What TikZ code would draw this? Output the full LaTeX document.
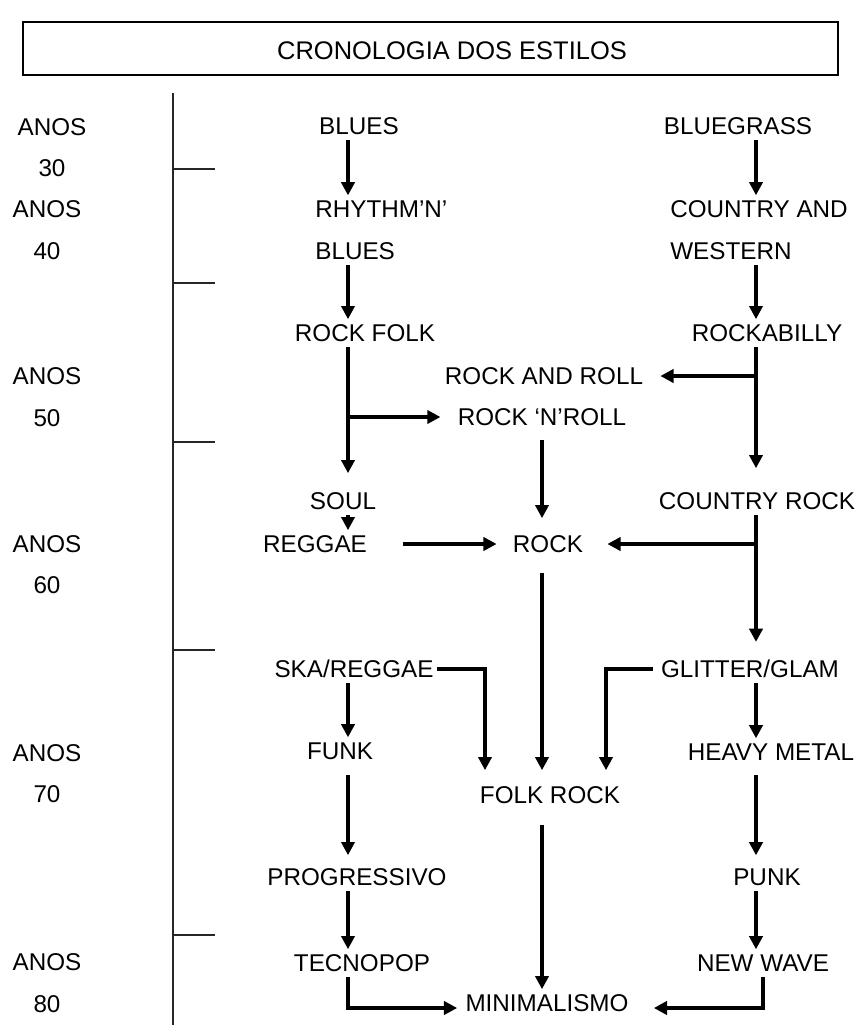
\documentclass[tikz,border=0pt]{standalone}
\usepackage{fontspec}
\setmainfont{Liberation Sans}
\usetikzlibrary{arrows.meta, calc}

\begin{document}
\begin{tikzpicture}[
  x=0.02cm, y=-0.02cm,
  estilo/.style={font=\fontsize{13.8}{23.8}\selectfont, inner xsep=0.16cm, inner ysep=0.1cm, text depth=0pt},
  ano/.style={estilo, align=center},
  titulo/.style={font=\fontsize{14.5}{17}\selectfont},
  caixa/.style={draw=black, line width=1.1pt},
  eixo/.style={draw=black!85, line width=1.1pt},
  seta/.style={-{Triangle[length=7.5pt, width=7.5pt]}, line width=1.9pt}
]
\useasboundingbox (0,0) rectangle (861,1025);

% --- Titel oben ---
\draw[caixa] (23,22) rectangle (838,75);
\node[titulo] (titulo) at (452,51) {CRONOLOGIA DOS ESTILOS};

% --- Zeitachse ---
\coordinate (eixotopo) at (173,93);
\coordinate (eixobase) at (173,1025);
\draw[eixo] (eixotopo) -- (eixobase);
\foreach \y in {169,283,442,650,935}
  \draw[eixo] (173,\y) -- ++(42,0);

\foreach \d/\x/\y in {30/52/147.5, 40/47/230, 50/47/397, 60/47/564.5, 70/47/773.5, 80/47/983}
  \node[ano] (anos\d) at (\x,\y) {ANOS\\\d};

% Spalten der Pfeile
\coordinate (colesq) at (348,0);
\coordinate (colmeio) at (542,0);
\coordinate (coldir) at (756,0);

% ------------------- ESTILOS ------------------------
\node[estilo] (blues)      at (359,126) {BLUES};
\node[estilo] (bluegrass)  at (738,126) {BLUEGRASS};
\node[estilo, align=left, anchor=west] (rhythm)  at (307,230) {RHYTHM'N'\\BLUES};
\node[estilo, align=left, anchor=west] (country) at (662,230) {COUNTRY AND\\WESTERN};
\node[estilo] (rockfolk)   at (365,333) {ROCK FOLK};
\node[estilo] (rockabilly) at (767,333) {ROCKABILLY};
\node[estilo] (rockandroll) at (544,376) {ROCK AND ROLL};
\node[estilo] (rocknroll)  at (542,417) {ROCK `N'ROLL};
\node[estilo] (soul)       at (343,501) {SOUL};
\node[estilo] (countryrock) at (757,501) {COUNTRY ROCK};
\node[estilo] (reggae)     at (315,544) {REGGAE};
\node[estilo] (rock)       at (548,544) {ROCK};
\node[estilo] (ska)        at (354,669) {SKA/REGGAE};
\node[estilo] (glitter)    at (750,669) {GLITTER/GLAM};
\node[estilo] (funk)       at (340,751) {FUNK};
\node[estilo] (heavy)      at (771,752) {HEAVY METAL};
\node[estilo] (folkrock)   at (550,795) {FOLK ROCK};
\node[estilo] (progressivo) at (357,877) {PROGRESSIVO};
\node[estilo] (punk)       at (767,877) {PUNK};
\node[estilo] (tecnopop)   at (362,963) {TECNOPOP};
\node[estilo] (newwave)    at (763,963) {NEW WAVE};
\node[estilo] (minimalismo) at (547,1003) {MINIMALISMO};

% Endpunkte der Winkelpfeile zum Folk Rock
\coordinate (skafim) at ($(folkrock.north)+(-65,-11)$);
\coordinate (glamfim) at ($(folkrock.north)+(56,-11)$);

% Verbindungen
\draw[seta] (blues.south -| colesq) -- (rhythm.north -| colesq);
\draw[seta] (bluegrass.south -| coldir) -- (country.north -| coldir);
\draw[seta] (rhythm.south -| colesq) -- (rockfolk.north -| colesq);
\draw[seta] (country.south -| coldir) -- (rockabilly.north -| coldir);

\draw[seta, shorten >=0.28cm] (rockfolk.south -| colesq) -- (soul.north -| colesq);
\draw[seta, shorten >=0.18cm] (rocknroll.west -| colesq) -- (rocknroll.west);
\draw[seta, shorten >=0.38cm] (rockabilly.south -| coldir) -- (countryrock.north -| coldir);
\draw[seta, shorten >=0.18cm] (rockandroll.east -| coldir) -- (rockandroll.east);

\draw[seta] (soul.south -| colesq) -- (reggae.north -| colesq);
\draw[seta, shorten <=0.18cm, shorten >=0.24cm] (rocknroll.south -| colmeio) -- (rock.north -| colmeio);
\draw[seta, shorten <=0.56cm, shorten >=0.16cm] (reggae.east) -- (rock.west);
\draw[seta, shorten >=0.26cm] (countryrock.south -| coldir) -- (glitter.north -| coldir);
\draw[seta, shorten >=0.32cm] (rock.east -| coldir) -- (rock.east);

\draw[seta, shorten <=0.3cm, shorten >=0.22cm] (rock.south -| colmeio) -- (folkrock.north -| colmeio);
\draw[seta] ([xshift=-0.1cm]ska.east) -| (skafim);
\draw[seta] (glitter.west) -| (glamfim);
\draw[seta] (ska.south -| colesq) -- (funk.north -| colesq);
\draw[seta] (glitter.south -| coldir) -- (heavy.north -| coldir);

\draw[seta, shorten <=0.2cm, shorten >=0.16cm] (funk.south -| colesq) -- (progressivo.north -| colesq);
\draw[seta, shorten <=0.18cm, shorten >=0.16cm] (heavy.south -| coldir) -- (punk.north -| coldir);
\draw[seta] (progressivo.south -| colesq) -- (tecnopop.north -| colesq);
\draw[seta] (punk.south -| coldir) -- (newwave.north -| coldir);

\draw[seta, shorten <=0.32cm] (folkrock.south -| colmeio) -- (minimalismo.north -| colmeio);
\draw[seta] (tecnopop.south -| colesq) |- ([yshift=-0.1cm]minimalismo.west);
\draw[seta, shorten >=0.34cm] (newwave.south) |- ([yshift=-0.1cm]minimalismo.east);
\end{tikzpicture}
\end{document}
